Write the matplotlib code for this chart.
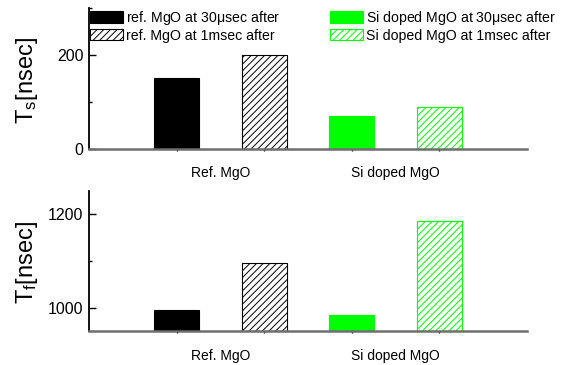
import matplotlib
matplotlib.use("Agg")
import matplotlib.pyplot as plt
from matplotlib.ticker import MultipleLocator, FixedLocator

plt.rcParams['font.family'] = ['Liberation Sans', 'DejaVu Sans']
plt.rcParams['mathtext.fontset'] = 'custom'
plt.rcParams['mathtext.rm'] = 'Liberation Sans'
plt.rcParams['mathtext.it'] = 'Liberation Sans'
plt.rcParams['hatch.linewidth'] = 0.7

# data
groups = ["Ref. MgO", "Si doped MgO"]
series_labels = ["ref. MgO at 30$\\mu$sec after", "ref. MgO at 1msec after",
                 "Si doped MgO at 30$\\mu$sec after", "Si doped MgO at 1msec after"]
ts_values = [150, 200, 70, 90]
tf_values = [995, 1095, 985, 1185]

green = "#00ff00"
faces = ["black", "white", green, "white"]
edges = ["black", "black", green, green]
hatches = [None, "/////", None, "/////"]

W, H = 569, 365
fig = plt.figure(figsize=(W / 100, H / 100), dpi=100)

def px_axes(left, top, right, bottom):
    return fig.add_axes([left / W, 1 - bottom / H, (right - left) / W, (bottom - top) / H])

ax1 = px_axes(89, 8, 527, 149)
ax2 = px_axes(89, 191, 527, 331)

xpos = [1, 2, 3, 4]

def draw(ax, values, ylim, major, minor):
    bars = []
    for x, v, fc, ec, h, lab in zip(xpos, values, faces, edges, hatches, series_labels):
        b = ax.bar(x, v - ylim[0], width=0.51, bottom=ylim[0], color=fc, edgecolor=ec,
                   hatch=h, linewidth=0.8, label=lab)
        bars.append(b)
    ax.set_xlim(0, 5)
    ax.set_ylim(*ylim)
    ax.spines['top'].set_visible(False)
    ax.spines['right'].set_visible(False)
    ax.spines['left'].set_linewidth(1.3)
    ax.spines['bottom'].set_linewidth(1.8)
    ax.spines['bottom'].set_color("#6e6e6e")
    ax.yaxis.set_major_locator(MultipleLocator(major))
    ax.yaxis.set_minor_locator(MultipleLocator(minor))
    ax.tick_params(axis='y', which='major', direction='in', length=5, width=1,
                   labelsize=11.5, pad=4)
    ax.tick_params(axis='y', which='minor', direction='in', length=2.5, width=1)
    ax.set_xticks([1.5, 3.5])
    ax.set_xticklabels(groups)
    ax.xaxis.set_minor_locator(FixedLocator(xpos))
    ax.tick_params(axis='x', which='minor', direction='out', length=1.5, width=1)
    return bars

bars1 = draw(ax1, ts_values, (0, 300), 200, 100)
bars2 = draw(ax2, tf_values, (950, 1250), 200, 100)
ax1.tick_params(axis='x', which='major', length=0, labelsize=10, pad=12)
ax2.tick_params(axis='x', which='major', length=0, labelsize=10, pad=13)

leg_kw = dict(frameon=False, fontsize=10.2, handlelength=2.3, handleheight=0.85,
              handletextpad=0.25, labelspacing=0.12, borderpad=0, borderaxespad=0,
              loc='upper left', bbox_transform=fig.transFigure)
leg1 = ax1.legend(bars1[:2], series_labels[:2], bbox_to_anchor=(90 / W, 1 - 9 / H), **leg_kw)
ax1.add_artist(leg1)
ax1.legend(bars1[2:], series_labels[2:], bbox_to_anchor=(330 / W, 1 - 9 / H), **leg_kw)

fig.text(27 / W, 1 - 81 / H, "T$_\\mathregular{s}$[nsec]", rotation=90, ha='center',
         va='center', fontsize=17)
fig.text(27 / W, 1 - 262 / H, "T$_\\mathregular{f}$[nsec]", rotation=90, ha='center',
         va='center', fontsize=17)

fig.savefig("out.png", dpi=100)
